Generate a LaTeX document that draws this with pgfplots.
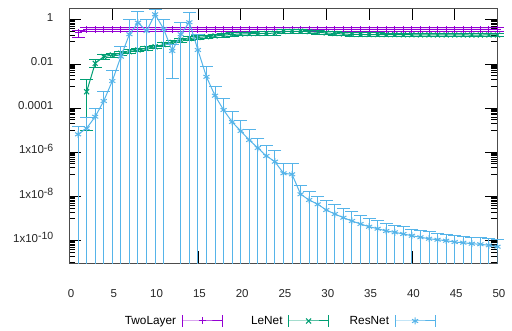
\documentclass[border=0pt]{standalone}
\usepackage{fontspec}
\setmainfont{Liberation Sans}
\usepackage{pgfplots}
\usepackage{pgfplotstable}
\pgfplotsset{compat=1.18}
\definecolor{tl}{HTML}{9400D3}
\definecolor{ln}{HTML}{009E73}
\definecolor{rn}{HTML}{56B4E9}
\newcommand{\sci}[1]{1x10\raisebox{2.5pt}{\fontsize{10.5}{12}\selectfont #1}}

\pgfplotstableread{
x y lo hi
1 0.25 0.16 0.34
2 0.365 0.28 0.45
3 0.365 0.28 0.45
4 0.365 0.28 0.45
5 0.365 0.28 0.45
6 0.365 0.28 0.45
7 0.365 0.28 0.45
8 0.365 0.28 0.45
9 0.365 0.28 0.45
10 0.365 0.28 0.45
11 0.365 0.28 0.45
12 0.365 0.28 0.45
13 0.365 0.28 0.45
14 0.365 0.28 0.45
15 0.365 0.28 0.45
16 0.365 0.28 0.45
17 0.365 0.28 0.45
18 0.365 0.28 0.45
19 0.365 0.28 0.45
20 0.365 0.28 0.45
21 0.365 0.28 0.45
22 0.365 0.28 0.45
23 0.365 0.28 0.45
24 0.365 0.28 0.45
25 0.365 0.28 0.45
26 0.365 0.28 0.45
27 0.365 0.28 0.45
28 0.365 0.28 0.45
29 0.365 0.28 0.45
30 0.365 0.28 0.45
31 0.365 0.28 0.45
32 0.365 0.28 0.45
33 0.365 0.28 0.45
34 0.365 0.28 0.45
35 0.365 0.28 0.45
36 0.365 0.28 0.45
37 0.365 0.28 0.45
38 0.365 0.28 0.45
39 0.365 0.28 0.45
40 0.365 0.28 0.45
41 0.365 0.28 0.45
42 0.365 0.28 0.45
43 0.365 0.28 0.45
44 0.365 0.28 0.45
45 0.365 0.28 0.45
46 0.365 0.28 0.45
47 0.365 0.28 0.45
48 0.365 0.28 0.45
49 0.365 0.28 0.45
50 0.365 0.28 0.45
}\twolayer

\pgfplotstableread{
x y lo hi
2 5.5e-4 1e-5 1.87e-3
3 0.0106 0.0066 0.0166
4 0.0212 0.0162 0.0272
5 0.0253 0.0203 0.0303
6 0.0302 0.0242 0.0362
7 0.0356 0.0286 0.0426
8 0.0426 0.0346 0.0506
9 0.0503 0.0413 0.0593
10 0.0594 0.0484 0.0704
11 0.0755 0.0615 0.0895
12 0.0949 0.0779 0.1119
13 0.118 0.097 0.139
14 0.1395 0.1145 0.1645
15 0.1566 0.1286 0.1846
16 0.170 0.139 0.201
17 0.183 0.150 0.216
18 0.199 0.163 0.235
19 0.216 0.177 0.255
20 0.223 0.183 0.263
21 0.230 0.189 0.271
22 0.235 0.193 0.277
23 0.240 0.197 0.283
24 0.245 0.201 0.289
25 0.292 0.240 0.344
26 0.2985 0.2445 0.3525
27 0.2985 0.2445 0.3525
28 0.286 0.235 0.337
29 0.269 0.221 0.317
30 0.250 0.205 0.295
31 0.2375 0.1945 0.2805
32 0.2255 0.1845 0.2665
33 0.214 0.175 0.253
34 0.214 0.175 0.253
35 0.212 0.174 0.250
36 0.212 0.174 0.250
37 0.210 0.172 0.248
38 0.210 0.172 0.248
39 0.208 0.171 0.245
40 0.208 0.171 0.245
41 0.205 0.168 0.242
42 0.205 0.168 0.242
43 0.204 0.167 0.241
44 0.204 0.167 0.241
45 0.203 0.166 0.240
46 0.203 0.166 0.240
47 0.202 0.166 0.238
48 0.202 0.166 0.238
49 0.203 0.166 0.240
50 0.203 0.166 0.240
}\lenet

\pgfplotstableread{
x y hi
1 6.5e-6 1.44e-5
2 1.22e-5 3.68e-5
3 4.08e-5 9.8e-5
4 2.09e-4 5.52e-4
5 1.68e-3 4.77e-3
6 0.0212 0.060
7 0.218 0.969
8 0.731 2.30
9 0.308 0.97
10 1.75 2.75
11 0.379 0.97
12 0.0384 0.0746
13 0.218 0.76
14 0.762 2.16
15 0.0426 0.203
16 2.6e-3 7.47e-3
17 3.64e-4 9.3e-4
18 8.2e-5 2.58e-4
19 2.35e-5 6.67e-5
20 9.2e-6 2.61e-5
21 3.6e-6 1.02e-5
22 1.57e-6 4.4e-6
23 6.8e-7 1.93e-6
24 3.76e-7 1.15e-6
25 1.12e-7 3.18e-7
26 1.01e-7 2.96e-7
27 1.26e-8 3.3e-8
28 6.95e-9 1.77e-8
29 4.44e-9 1.05e-8
30 2.45e-9 6.6e-9
31 1.61e-9 4.35e-9
32 1.10e-9 2.86e-9
33 7.8e-10 1.99e-9
34 5.7e-10 1.38e-9
35 4.3e-10 1.01e-9
36 3.49e-10 7.8e-10
37 2.75e-10 6.0e-10
38 2.4e-10 5.13e-10
39 2.01e-10 4.17e-10
40 1.68e-10 3.38e-10
41 1.43e-10 2.9e-10
42 1.23e-10 2.48e-10
43 1.11e-10 2.23e-10
44 1.0e-10 2.01e-10
45 8.7e-11 1.72e-10
46 8.1e-11 1.63e-10
47 7.3e-11 1.47e-10
48 6.9e-11 1.40e-10
49 6.2e-11 1.26e-10
50 5.36e-11 1.08e-10
}\resnet

\begin{document}
\begin{tikzpicture}
\begin{axis}[
  name=ax,
  scale only axis, width=428pt, height=254.8pt,
  ymode=log, xmin=0, xmax=50, ymin=9.5e-12, ymax=3.2,
  clip mode=individual,
  unbounded coords=jump,
  axis line style={black!70, line width=0.9pt},
  tick align=inside, major tick length=12pt, minor tick length=6pt,
  tick style={black, line width=0.7pt},
  xtick={0,5,...,50}, minor xtick={},
  ytick={1e-10,1e-8,1e-6,1e-4,1e-2,1},
  yticklabels={\sci{-10},\sci{-8},\sci{-6},0.0001,0.01,1},
  minor ytick={1e-11,2e-11,3e-11,4e-11,5e-11,6e-11,7e-11,8e-11,9e-11,
    1e-9,2e-9,3e-9,4e-9,5e-9,6e-9,7e-9,8e-9,9e-9,
    1e-7,2e-7,3e-7,4e-7,5e-7,6e-7,7e-7,8e-7,9e-7,
    1e-5,2e-5,3e-5,4e-5,5e-5,6e-5,7e-5,8e-5,9e-5,
    1e-3,2e-3,3e-3,4e-3,5e-3,6e-3,7e-3,8e-3,9e-3,
    0.1,0.2,0.3,0.4,0.5,0.6,0.7,0.8,0.9},
  /pgf/number format/assume math mode=true,
  tick label style={font=\fontsize{11.5}{14}\selectfont, text=black!85},
  xticklabel style={anchor=center, inner sep=0pt, yshift=-30pt, xshift=1.5pt},
  yticklabel style={anchor=base east, inner sep=0pt, xshift=-16pt, yshift=-1.6pt},
  legend columns=3,
  legend plot pos=right,
  legend image code/.code={
    \draw[mark repeat=2,mark phase=2] plot coordinates {(0pt,0pt) (20pt,0pt) (40pt,0pt)};
    \draw (0pt,-5.7pt) -- (0pt,5.7pt) (40pt,-5.7pt) -- (40pt,5.7pt);
  },
  legend style={draw=none, fill=none, inner sep=0pt,
    at={(axis description cs:0.8523,0)}, anchor=east, yshift=-57.7pt, xshift=1.5pt,
    font=\fontsize{11.8}{14}\selectfont,
    nodes={inner sep=0pt},
    /tikz/every odd column/.append style={column sep=5.5pt, text width=60pt, align=right},
    /tikz/every even column/.append style={column sep=0pt}},
]
% ---------- TwoLayer ----------
\addplot[tl, line width=1pt, forget plot] coordinates {
(1,0.16) (1,0.34) (1,nan) (2,0.28) (2,0.45) (2,nan) (3,0.28) (3,0.45) (3,nan)
(4,0.28) (4,0.45) (4,nan) (5,0.28) (5,0.45) (5,nan) (6,0.28) (6,0.45) (6,nan)
(7,0.28) (7,0.45) (7,nan) (8,0.28) (8,0.45) (8,nan) (9,0.28) (9,0.45) (9,nan)
(10,0.28) (10,0.45) (10,nan) (11,0.28) (11,0.45) (11,nan) (12,0.28) (12,0.45) (12,nan)
(13,0.28) (13,0.45) (13,nan) (14,0.28) (14,0.45) (14,nan) (15,0.28) (15,0.45) (15,nan)
(16,0.28) (16,0.45) (16,nan) (17,0.28) (17,0.45) (17,nan) (18,0.28) (18,0.45) (18,nan)
(19,0.28) (19,0.45) (19,nan) (20,0.28) (20,0.45) (20,nan) (21,0.28) (21,0.45) (21,nan)
(22,0.28) (22,0.45) (22,nan) (23,0.28) (23,0.45) (23,nan) (24,0.28) (24,0.45) (24,nan)
(25,0.28) (25,0.45) (25,nan) (26,0.28) (26,0.45) (26,nan) (27,0.28) (27,0.45) (27,nan)
(28,0.28) (28,0.45) (28,nan) (29,0.28) (29,0.45) (29,nan) (30,0.28) (30,0.45) (30,nan)
(31,0.28) (31,0.45) (31,nan) (32,0.28) (32,0.45) (32,nan) (33,0.28) (33,0.45) (33,nan)
(34,0.28) (34,0.45) (34,nan) (35,0.28) (35,0.45) (35,nan) (36,0.28) (36,0.45) (36,nan)
(37,0.28) (37,0.45) (37,nan) (38,0.28) (38,0.45) (38,nan) (39,0.28) (39,0.45) (39,nan)
(40,0.28) (40,0.45) (40,nan) (41,0.28) (41,0.45) (41,nan) (42,0.28) (42,0.45) (42,nan)
(43,0.28) (43,0.45) (43,nan) (44,0.28) (44,0.45) (44,nan) (45,0.28) (45,0.45) (45,nan)
(46,0.28) (46,0.45) (46,nan) (47,0.28) (47,0.45) (47,nan) (48,0.28) (48,0.45) (48,nan)
(49,0.28) (49,0.45) (49,nan) (50,0.28) (50,0.45)
};
\addplot[tl, only marks, mark=-, mark size=6.5pt, mark options={line width=1pt}, forget plot]
  table[x=x, y=lo] {\twolayer};
\addplot[tl, only marks, mark=-, mark size=6.5pt, mark options={line width=1pt}, forget plot]
  table[x=x, y=hi] {\twolayer};
\addplot[tl, line width=1pt, mark=+, mark size=3.5pt] table[x=x, y=y] {\twolayer};
\addlegendentry{TwoLayer}
% ---------- LeNet ----------
\addplot[ln, line width=1pt, forget plot] coordinates {
(2,1e-5) (2,1.87e-3) (2,nan) (3,0.0066) (3,0.0166) (3,nan) (4,0.0162) (4,0.0272) (4,nan)
(5,0.0203) (5,0.0303) (5,nan) (6,0.0242) (6,0.0362) (6,nan) (7,0.0286) (7,0.0426) (7,nan)
(8,0.0346) (8,0.0506) (8,nan) (9,0.0413) (9,0.0593) (9,nan) (10,0.0484) (10,0.0704) (10,nan)
(11,0.0615) (11,0.0895) (11,nan) (12,0.0779) (12,0.1119) (12,nan) (13,0.097) (13,0.139) (13,nan)
(14,0.1145) (14,0.1645) (14,nan) (15,0.1286) (15,0.1846) (15,nan) (16,0.139) (16,0.201) (16,nan)
(17,0.150) (17,0.216) (17,nan) (18,0.163) (18,0.235) (18,nan) (19,0.177) (19,0.255) (19,nan)
(20,0.183) (20,0.263) (20,nan) (21,0.189) (21,0.271) (21,nan) (22,0.193) (22,0.277) (22,nan)
(23,0.197) (23,0.283) (23,nan) (24,0.201) (24,0.289) (24,nan) (25,0.240) (25,0.344) (25,nan)
(26,0.2445) (26,0.3525) (26,nan) (27,0.2445) (27,0.3525) (27,nan) (28,0.235) (28,0.337) (28,nan)
(29,0.221) (29,0.317) (29,nan) (30,0.205) (30,0.295) (30,nan) (31,0.1945) (31,0.2805) (31,nan)
(32,0.1845) (32,0.2665) (32,nan) (33,0.175) (33,0.253) (33,nan) (34,0.175) (34,0.253) (34,nan)
(35,0.174) (35,0.250) (35,nan) (36,0.174) (36,0.250) (36,nan) (37,0.172) (37,0.248) (37,nan)
(38,0.172) (38,0.248) (38,nan) (39,0.171) (39,0.245) (39,nan) (40,0.171) (40,0.245) (40,nan)
(41,0.168) (41,0.242) (41,nan) (42,0.168) (42,0.242) (42,nan) (43,0.167) (43,0.241) (43,nan)
(44,0.167) (44,0.241) (44,nan) (45,0.166) (45,0.240) (45,nan) (46,0.166) (46,0.240) (46,nan)
(47,0.166) (47,0.238) (47,nan) (48,0.166) (48,0.238) (48,nan) (49,0.166) (49,0.240) (49,nan)
(50,0.166) (50,0.240)
};
\addplot[ln, only marks, mark=-, mark size=6.5pt, mark options={line width=1pt}, forget plot]
  table[x=x, y=lo] {\lenet};
\addplot[ln, only marks, mark=-, mark size=6.5pt, mark options={line width=1pt}, forget plot]
  table[x=x, y=hi] {\lenet};
\addplot[ln, line width=1pt, mark=x, mark size=3.5pt] table[x=x, y=y] {\lenet};
\addlegendentry{LeNet}
% ---------- ResNet ----------
\addplot[rn, line width=1pt, forget plot] coordinates {
(1,1e-14) (1,1.44e-5) (1,nan)
(2,1e-14) (2,3.68e-5) (2,nan)
(3,1e-14) (3,9.8e-5) (3,nan)
(4,1e-14) (4,5.52e-4) (4,nan)
(5,1e-14) (5,4.77e-3) (5,nan)
(6,1e-14) (6,0.060) (6,nan)
(7,1e-14) (7,0.969) (7,nan)
(8,1e-14) (8,2.30) (8,nan)
(9,1e-14) (9,0.97) (9,nan)
(10,1e-14) (10,2.75) (10,nan)
(11,1e-14) (11,0.97) (11,nan)
(12,0.0022) (12,0.0746) (12,nan)
(13,1e-14) (13,0.76) (13,nan)
(14,1e-14) (14,2.16) (14,nan)
(15,1e-14) (15,0.203) (15,nan)
(16,1e-14) (16,7.47e-3) (16,nan)
(17,1e-14) (17,9.3e-4) (17,nan)
(18,1e-14) (18,2.58e-4) (18,nan)
(19,1e-14) (19,6.67e-5) (19,nan)
(20,1e-14) (20,2.61e-5) (20,nan)
(21,1e-14) (21,1.02e-5) (21,nan)
(22,1e-14) (22,4.4e-6) (22,nan)
(23,1e-14) (23,1.93e-6) (23,nan)
(24,1e-14) (24,1.15e-6) (24,nan)
(25,1e-14) (25,3.18e-7) (25,nan)
(26,1e-14) (26,2.96e-7) (26,nan)
(27,1e-14) (27,3.3e-8) (27,nan)
(28,1e-14) (28,1.77e-8) (28,nan)
(29,1e-14) (29,1.05e-8) (29,nan)
(30,1e-14) (30,6.6e-9) (30,nan)
(31,1e-14) (31,4.35e-9) (31,nan)
(32,1e-14) (32,2.86e-9) (32,nan)
(33,1e-14) (33,1.99e-9) (33,nan)
(34,1e-14) (34,1.38e-9) (34,nan)
(35,1e-14) (35,1.01e-9) (35,nan)
(36,1e-14) (36,7.8e-10) (36,nan)
(37,1e-14) (37,6.0e-10) (37,nan)
(38,1e-14) (38,5.13e-10) (38,nan)
(39,1e-14) (39,4.17e-10) (39,nan)
(40,1e-14) (40,3.38e-10) (40,nan)
(41,1e-14) (41,2.9e-10) (41,nan)
(42,1e-14) (42,2.48e-10) (42,nan)
(43,1e-14) (43,2.23e-10) (43,nan)
(44,1e-14) (44,2.01e-10) (44,nan)
(45,1e-14) (45,1.72e-10) (45,nan)
(46,1e-14) (46,1.63e-10) (46,nan)
(47,1e-14) (47,1.47e-10) (47,nan)
(48,1e-14) (48,1.40e-10) (48,nan)
(49,1e-14) (49,1.26e-10) (49,nan)
(50,1e-14) (50,1.08e-10)
};
\addplot[rn, only marks, mark=-, mark size=6.5pt, mark options={line width=1pt}, forget plot]
  table[x=x, y=hi] {\resnet};
\addplot[rn, only marks, mark=-, mark size=6.5pt, mark options={line width=1pt}, forget plot]
  coordinates {(12,0.0022)};
\addplot[rn, line width=1pt, mark=asterisk, mark size=3.5pt]
  table[x=x, y=y] {\resnet};
\addlegendentry{ResNet}
\end{axis}
\pgfresetboundingbox
\path ([shift={(-69.5pt,-67.7pt)}]ax.south west) rectangle ([shift={(442.5pt,263.3pt)}]ax.south west);
\end{tikzpicture}
\end{document}
